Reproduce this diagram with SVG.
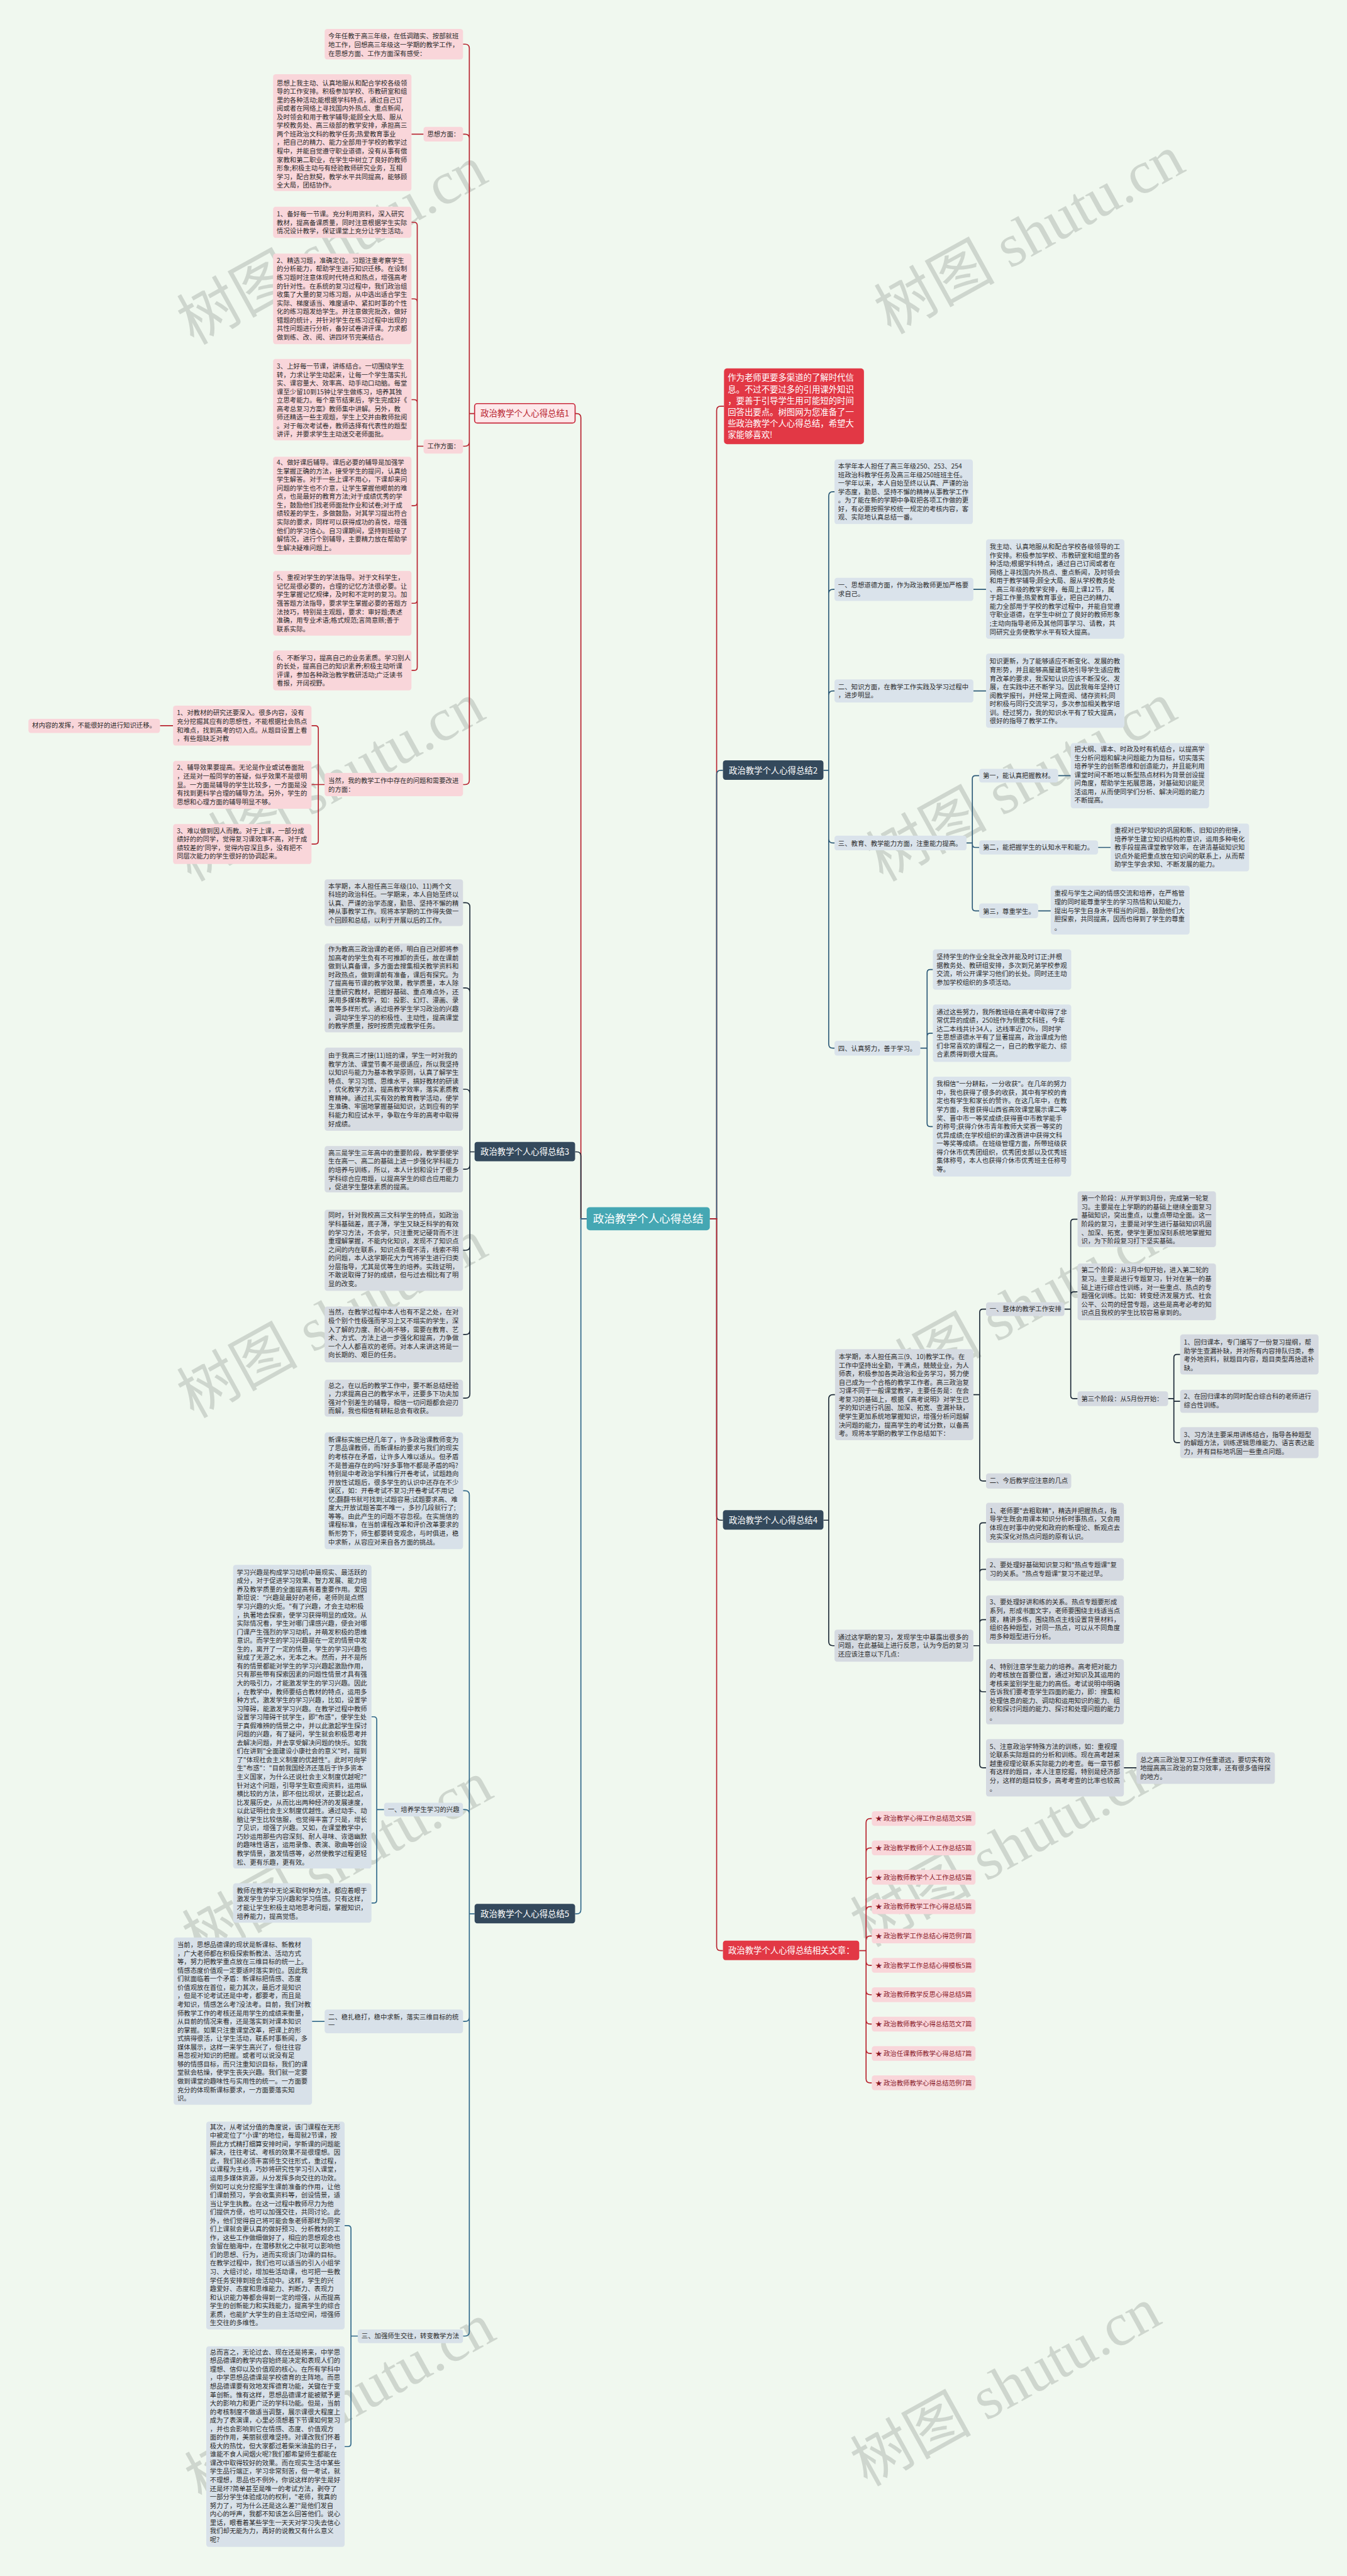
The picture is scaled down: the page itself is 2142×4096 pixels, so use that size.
<svg xmlns="http://www.w3.org/2000/svg" width="2142" height="4096" viewBox="0 0 2142 4096">
<style>
.t{font-family:"Noto Sans CJK SC","Noto Sans",sans-serif;font-size:12.4px;fill:#2b2b2b}
.lk{font-family:"Noto Sans CJK SC","Noto Sans",sans-serif;font-size:12.4px;fill:#8a1a2a}
.big{font-family:"Noto Sans CJK SC","Noto Sans",sans-serif;font-size:16px;fill:#fff}
.ctr{font-family:"Noto Sans CJK SC","Noto Sans",sans-serif;font-size:21px;fill:#fff}
.wm{font-family:"Liberation Serif","Noto Sans CJK SC",serif;font-size:115px;fill:#8c948c;opacity:.33}
.pk{fill:#f9d6da}
.b2{fill:#dae3eb}
.b3{fill:#d7dce2}
.b4{fill:#d5dae1}
.b5{fill:#d8e1e9}
.c1{fill:none;stroke:#b8232f;stroke-width:2}
.c2{fill:none;stroke:#2d5a78;stroke-width:2}
.c3{fill:none;stroke:#1f2c3b;stroke-width:2}
.c4{fill:none;stroke:#1c2937;stroke-width:2}
.c5{fill:none;stroke:#31688a;stroke-width:2}
</style>
<rect x="0" y="0" width="2142" height="4096" fill="#f0f8ef"/>
<g transform="scale(0.8367)">
<g id="watermarks">
<text class="wm" transform="translate(650,500) rotate(-29)" text-anchor="middle">树图 shutu.cn</text>
<text class="wm" transform="translate(1975,480) rotate(-29)" text-anchor="middle">树图 shutu.cn</text>
<text class="wm" transform="translate(645,1520) rotate(-29)" text-anchor="middle">树图 shutu.cn</text>
<text class="wm" transform="translate(1960,1520) rotate(-29)" text-anchor="middle">树图 shutu.cn</text>
<text class="wm" transform="translate(650,2540) rotate(-29)" text-anchor="middle">树图 shutu.cn</text>
<text class="wm" transform="translate(1950,2520) rotate(-29)" text-anchor="middle">树图 shutu.cn</text>
<text class="wm" transform="translate(660,3570) rotate(-29)" text-anchor="middle">树图 shutu.cn</text>
<text class="wm" transform="translate(1930,3545) rotate(-29)" text-anchor="middle">树图 shutu.cn</text>
<text class="wm" transform="translate(665,4600) rotate(-29)" text-anchor="middle">树图 shutu.cn</text>
<text class="wm" transform="translate(1930,4570) rotate(-29)" text-anchor="middle">树图 shutu.cn</text>
</g>
<g id="connectors">
<path class="c1" d="M1115 2316 H1104 V794 Q1104 786 1096 786 H1093"/>
<path class="c3" d="M1115 2316 H1104 V2197 Q1104 2189 1096 2189 H1093"/>
<path class="c5" d="M1115 2316 H1104 V3629 Q1104 3637 1096 3637 H1093"/>
<path class="c1" d="M1349 2316 H1362 V780 Q1362 772 1370 772 H1376"/>
<path class="c2" d="M1349 2316 H1362 V1472 Q1362 1464 1370 1464 H1374"/>
<path class="c4" d="M1349 2316 H1362 V2881 Q1362 2889 1370 2889 H1374"/>
<path class="c1" d="M1349 2316 H1362 V3699 Q1362 3707 1370 3707 H1374"/>
<path class="c1" d="M902 786 H892 M892 786 V92 Q892 84 884 84 H880 M892 786 V263 Q892 255 884 255 H880 M892 786 V840 Q892 848 884 848 H880 M892 786 V1483 Q892 1491 884 1491 H880"/>
<path class="c1" d="M805 255 H782"/>
<path class="c1" d="M805 848 H793 M793 848 V428.5 Q793 422.5 787 422.5 H782 M793 848 V574 Q793 568 787 568 H782 M793 848 V765.5 Q793 759.5 787 759.5 H782 M793 848 V955 Q793 961 787 961 H782 M793 848 V1140.5 Q793 1146.5 787 1146.5 H782 M793 848 V1268 Q793 1274 787 1274 H782"/>
<path class="c1" d="M617 1491 H605 M605 1491 V1385 Q605 1379 599 1379 H592 M605 1491 H592 M605 1491 V1598 Q605 1604 599 1604 H592 M329 1379 H304"/>
<path class="c3" d="M902 2189 H893 M893 2189 V1723.5 Q893 1715.5 885 1715.5 H880 M893 2189 V1885.5 Q893 1877.5 885 1877.5 H880 M893 2189 V2078 Q893 2070 885 2070 H880 M893 2189 V2214 Q893 2222 885 2222 H880 M893 2189 V2368 Q893 2376 885 2376 H880 M893 2189 V2528 Q893 2536 885 2536 H880 M893 2189 V2649 Q893 2657 885 2657 H880"/>
<path class="c5" d="M902 3637 H892 M892 3637 V2841 Q892 2833 884 2833 H880 M892 3637 V3447 Q892 3439 884 3439 H880 M892 3637 V3833.5 Q892 3841.5 884 3841.5 H880 M892 3637 V4431.5 Q892 4439.5 884 4439.5 H880"/>
<path class="c5" d="M730 3439 H716 M716 3439 V3268.5 Q716 3262.5 710 3262.5 H706 M716 3439 V3610.5 Q716 3616.5 710 3616.5 H706"/>
<path class="c5" d="M617 3841.5 H593"/>
<path class="c5" d="M680 4439.5 H667 M667 4439.5 V4235.5 Q667 4229.5 661 4229.5 H655 M667 4439.5 V4643.5 Q667 4649.5 661 4649.5 H655"/>
<path class="c2" d="M1565 1464 H1575 M1575 1464 V942.5 Q1575 934.5 1583 934.5 H1586 M1575 1464 V1128 Q1575 1120 1583 1120 H1586 M1575 1464 V1321 Q1575 1313 1583 1313 H1586 M1575 1464 V1594 Q1575 1602 1583 1602 H1586 M1575 1464 V1984 Q1575 1992 1583 1992 H1586"/>
<path class="c2" d="M1850 1120 H1874 M1850 1313 H1874 M2011 1474 H2035 M2087 1610.5 H2111 M1973 1731 H1997"/>
<path class="c2" d="M1837 1602 H1848 M1848 1602 V1480 Q1848 1474 1854 1474 H1861 M1848 1602 V1604.5 Q1848 1610.5 1854 1610.5 H1861 M1848 1602 V1725 Q1848 1731 1854 1731 H1861"/>
<path class="c2" d="M1749 1992 H1762 M1762 1992 V1848.5 Q1762 1842.5 1768 1842.5 H1773 M1762 1992 V1969.5 Q1762 1963.5 1768 1963.5 H1773 M1762 1992 V2135 Q1762 2141 1768 2141 H1773"/>
<path class="c4" d="M1565 2889 H1575 M1575 2889 V2658.5 Q1575 2650.5 1583 2650.5 H1587 M1575 2889 V3119.5 Q1575 3127.5 1583 3127.5 H1586"/>
<path class="c4" d="M1850 2650.5 H1862 M1862 2650.5 V2494 Q1862 2488 1868 2488 H1874 M1862 2650.5 V2808.5 Q1862 2814.5 1868 2814.5 H1874"/>
<path class="c4" d="M2023 2488 H2035 M2035 2488 V2323 Q2035 2317 2041 2317 H2048 M2035 2488 V2461 Q2035 2455 2041 2455 H2048 M2035 2488 V2652 Q2035 2658 2041 2658 H2048"/>
<path class="c4" d="M2220 2658 H2231 M2231 2658 V2580 Q2231 2574 2237 2574 H2243 M2231 2658 V2663 H2243 M2231 2658 V2735.5 Q2231 2741.5 2237 2741.5 H2243"/>
<path class="c4" d="M1850 3127.5 H1862 M1862 3127.5 V2900 Q1862 2894 1868 2894 H1874 M1862 3127.5 V2988.5 Q1862 2982.5 1868 2982.5 H1874 M1862 3127.5 V3084 Q1862 3078 1868 3078 H1874 M1862 3127.5 V3209 Q1862 3215 1868 3215 H1874 M1862 3127.5 V3353.5 Q1862 3359.5 1868 3359.5 H1874 M2136 3359.5 H2160"/>
<path class="c1" d="M1633 3707 H1646 M1646 3707 V3464 Q1646 3456 1654 3456 H1657 M1646 3707 V3519.8 Q1646 3511.8 1654 3511.8 H1657 M1646 3707 V3575.6 Q1646 3567.6 1654 3567.6 H1657 M1646 3707 V3631.4 Q1646 3623.4 1654 3623.4 H1657 M1646 3707 V3687.2 Q1646 3679.2 1654 3679.2 H1657 M1646 3707 V3727 Q1646 3735 1654 3735 H1657 M1646 3707 V3782.8 Q1646 3790.8 1654 3790.8 H1657 M1646 3707 V3838.6 Q1646 3846.6 1654 3846.6 H1657 M1646 3707 V3894.4 Q1646 3902.4 1654 3902.4 H1657 M1646 3707 V3950.2 Q1646 3958.2 1654 3958.2 H1657"/>
</g>
<g id="center"><rect x="1115" y="2294" width="234" height="44" rx="6" fill="#45a7b3"/><text class="ctr" x="1232" y="2323.5" text-anchor="middle">政治教学个人心得总结</text></g>
<g id="intro"><rect x="1376" y="700" width="266" height="144" rx="6" fill="#e23845"/>
<text class="big" x="1383" y="723.6"><tspan x="1383">作为老师更要多渠道的了解时代信</tspan><tspan x="1383" dy="21.6">息。不过不要过多的引用课外知识</tspan><tspan x="1383" dy="21.6">，要善于引导学生用可能短的时间</tspan><tspan x="1383" dy="21.6">回答出要点。树图网为您准备了一</tspan><tspan x="1383" dy="21.6">些政治教学个人心得总结，希望大</tspan><tspan x="1383" dy="21.6">家能够喜欢!</tspan></text></g>
<g id="b1"><rect x="902" y="767" width="191" height="37" rx="5" fill="#fde8ea" stroke="#c8283a" stroke-width="2"/><text class="big" style="fill:#b8232f" x="997.5" y="791.5" text-anchor="middle">政治教学个人心得总结1</text></g>
<g id="b3"><rect x="902" y="2170" width="191" height="37" rx="5" fill="#34495c"/><text class="big" x="997.5" y="2194.5" text-anchor="middle">政治教学个人心得总结3</text></g>
<g id="b5"><rect x="902" y="3618" width="191" height="37" rx="5" fill="#34495c"/><text class="big" x="997.5" y="3642.5" text-anchor="middle">政治教学个人心得总结5</text></g>
<g id="b2"><rect x="1374" y="1445" width="191" height="37" rx="5" fill="#34495c"/><text class="big" x="1469.5" y="1469.5" text-anchor="middle">政治教学个人心得总结2</text></g>
<g id="b4"><rect x="1374" y="2870" width="191" height="37" rx="5" fill="#34495c"/><text class="big" x="1469.5" y="2894.5" text-anchor="middle">政治教学个人心得总结4</text></g>
<g id="b6"><rect x="1374" y="3688" width="259" height="37" rx="5" fill="#e23845"/><text class="big" x="1384" y="3712.6">政治教学个人心得总结相关文章：</text></g>
<g id="n1a"><rect class="pk" x="617" y="55" width="263" height="58" rx="5"/><text class="t" x="624" y="73.4"><tspan x="624">今年任教于高三年级，在低调踏实、按部就班</tspan><tspan x="624" dy="16.2">地工作，回想高三年级这一学期的教学工作，</tspan><tspan x="624" dy="16.2">在思想方面、工作方面深有感受：</tspan></text></g>
<g id="n1sx"><rect class="pk" x="805" y="241" width="75" height="28" rx="5"/><text class="t" x="812" y="259.4">思想方面：</text></g>
<g id="n1sxbox"><rect class="pk" x="519" y="141" width="263" height="222" rx="5"/><text class="t" x="526" y="162"><tspan x="526">思想上我主动、认真地服从和配合学校各级领</tspan><tspan x="526" dy="16.2">导的工作安排。积极参加学校、市教研室和组</tspan><tspan x="526" dy="16.2">里的各种活动;能根据学科特点，通过自己订</tspan><tspan x="526" dy="16.2">阅或者在网络上寻找国内外热点、重点新闻，</tspan><tspan x="526" dy="16.2">及时领会和用于教学辅导;能顾全大局、服从</tspan><tspan x="526" dy="16.2">学校教务处、高三级部的教学安排，承担高三</tspan><tspan x="526" dy="16.2">两个班政治文科的教学任务;热爱教育事业</tspan><tspan x="526" dy="16.2">，把自己的精力、能力全部用于学校的教学过</tspan><tspan x="526" dy="16.2">程中，并能自觉遵守职业道德，没有从事有偿</tspan><tspan x="526" dy="16.2">家教和第二职业，在学生中树立了良好的教师</tspan><tspan x="526" dy="16.2">形象;积极主动与有经验教师研究业务，互相</tspan><tspan x="526" dy="16.2">学习，配合默契，教学水平共同提高，能够顾</tspan><tspan x="526" dy="16.2">全大局，团结协作。</tspan></text></g>
<g id="n1gz"><rect class="pk" x="805" y="835" width="75" height="27" rx="5"/><text class="t" x="812" y="852.4">工作方面：</text></g>
<g id="w1"><rect class="pk" x="519" y="393" width="263" height="59" rx="5"/><text class="t" x="526" y="411.4"><tspan x="526">1、备好每一节课。充分利用资料，深入研究</tspan><tspan x="526" dy="16.2">教材，提高备课质量，同时注意根据学生实际</tspan><tspan x="526" dy="16.2">情况设计教学，保证课堂上充分让学生活动。</tspan></text></g>
<g id="w2"><rect class="pk" x="519" y="482" width="263" height="172" rx="5"/><text class="t" x="526" y="499.4"><tspan x="526">2、精选习题，准确定位。习题注重考察学生</tspan><tspan x="526" dy="16.2">的分析能力，帮助学生进行知识迁移。在设制</tspan><tspan x="526" dy="16.2">练习题时注意体现时代特点和热点，增强高考</tspan><tspan x="526" dy="16.2">的针对性。在系统的复习过程中，我们政治组</tspan><tspan x="526" dy="16.2">收集了大量的复习练习题，从中选出适合学生</tspan><tspan x="526" dy="16.2">实际、梯度适当、难度适中、紧扣时事的个性</tspan><tspan x="526" dy="16.2">化的练习题发给学生。并注意做完批改，做好</tspan><tspan x="526" dy="16.2">错题的统计，并针对学生在练习过程中出现的</tspan><tspan x="526" dy="16.2">共性问题进行分析，备好试卷讲评课。力求都</tspan><tspan x="526" dy="16.2">做到练、改、阅、讲四环节完美结合。</tspan></text></g>
<g id="w3"><rect class="pk" x="519" y="682" width="263" height="155" rx="5"/><text class="t" x="526" y="700.4"><tspan x="526">3、上好每一节课，讲练结合。一切围绕学生</tspan><tspan x="526" dy="16.2">转，力求让学生动起来，让每一个学生落实扎</tspan><tspan x="526" dy="16.2">实、课容量大、效率高、动手动口动脑。每堂</tspan><tspan x="526" dy="16.2">课至少留10到15钟让学生做练习，培养其独</tspan><tspan x="526" dy="16.2">立思考能力。每个章节结束后，学生完成好《</tspan><tspan x="526" dy="16.2">高考总复习方案》教师集中讲解。另外，教</tspan><tspan x="526" dy="16.2">师还精选一些主观题，学生上交并由教师批阅</tspan><tspan x="526" dy="16.2">。对于每次考试卷，教师选择有代表性的题型</tspan><tspan x="526" dy="16.2">讲评，并要求学生主动送交老师面批。</tspan></text></g>
<g id="w4"><rect class="pk" x="519" y="868" width="263" height="186" rx="5"/><text class="t" x="526" y="883.4"><tspan x="526">4、做好课后辅导。课后必要的辅导是加强学</tspan><tspan x="526" dy="16.2">生掌握正确的方法，接受学生的提问，认真给</tspan><tspan x="526" dy="16.2">学生解答。对于一些上课不用心，下课却来问</tspan><tspan x="526" dy="16.2">问题的学生也不介意，让学生掌握他眼前的难</tspan><tspan x="526" dy="16.2">点，也是最好的教育方法;对于成绩优秀的学</tspan><tspan x="526" dy="16.2">生，鼓励他们找老师面批作业和试卷;对于成</tspan><tspan x="526" dy="16.2">绩较差的学生，多做鼓励，对其学习提出符合</tspan><tspan x="526" dy="16.2">实际的要求，同样可以获得成功的喜悦，增强</tspan><tspan x="526" dy="16.2">他们的学习信心。自习课期间，坚持到班级了</tspan><tspan x="526" dy="16.2">解情况，进行个别辅导，主要精力放在帮助学</tspan><tspan x="526" dy="16.2">生解决疑难问题上。</tspan></text></g>
<g id="w5"><rect class="pk" x="519" y="1085" width="263" height="123" rx="5"/><text class="t" x="526" y="1102.4"><tspan x="526">5、重视对学生的学法指导。对于文科学生，</tspan><tspan x="526" dy="16.2">记忆是很必要的，合理的记忆方法很必要。让</tspan><tspan x="526" dy="16.2">学生掌握记忆规律，及时和不定时的复习。加</tspan><tspan x="526" dy="16.2">强答题方法指导，要求学生掌握必要的答题方</tspan><tspan x="526" dy="16.2">法技巧，特别是主观题，要求：审好题;表述</tspan><tspan x="526" dy="16.2">准确，用专业术语;格式规范;言简意赅;善于</tspan><tspan x="526" dy="16.2">联系实际。</tspan></text></g>
<g id="w6"><rect class="pk" x="519" y="1236" width="263" height="76" rx="5"/><text class="t" x="526" y="1254.4"><tspan x="526">6、不断学习，提高自己的业务素质。学习别人</tspan><tspan x="526" dy="16.2">的长处，提高自己的知识素养;积极主动听课</tspan><tspan x="526" dy="16.2">评课，参加各种政治教学教研活动;广泛读书</tspan><tspan x="526" dy="16.2">看报，开阔视野。</tspan></text></g>
<g id="n1dr"><rect class="pk" x="617" y="1469" width="263" height="44" rx="5"/><text class="t" x="624" y="1488.4"><tspan x="624">当然，我的教学工作中存在的问题和需要改进</tspan><tspan x="624" dy="16.2">的方面：</tspan></text></g>
<g id="c1"><rect class="pk" x="329" y="1341" width="263" height="76" rx="5"/><text class="t" x="336" y="1359.4"><tspan x="336">1、对教材的研究还要深入。很多内容，没有</tspan><tspan x="336" dy="16.2">充分挖掘其应有的思想性，不能根据社会热点</tspan><tspan x="336" dy="16.2">和难点，找到高考的切入点。从题目设置上看</tspan><tspan x="336" dy="16.2">，有些题缺乏对教</tspan></text></g>
<g id="c2"><rect class="pk" x="329" y="1446" width="263" height="91" rx="5"/><text class="t" x="336" y="1463.4"><tspan x="336">2、辅导效果要提高。无论是作业或试卷面批</tspan><tspan x="336" dy="16.2">，还是对一般同学的答疑，似乎效果不是很明</tspan><tspan x="336" dy="16.2">显。一方面是辅导的学生比较多，一方面是没</tspan><tspan x="336" dy="16.2">有找到更科学合理的辅导方法。另外，学生的</tspan><tspan x="336" dy="16.2">思想和心理方面的辅导明显不够。</tspan></text></g>
<g id="c3"><rect class="pk" x="329" y="1566" width="263" height="76" rx="5"/><text class="t" x="336" y="1583.4"><tspan x="336">3、难以做到因人而教。对于上课，一部分成</tspan><tspan x="336" dy="16.2">绩好的的同学，觉得复习课效率不高，对于成</tspan><tspan x="336" dy="16.2">绩较差的'同学，觉得内容深且多，没有把不</tspan><tspan x="336" dy="16.2">同层次能力的学生很好的协调起来。</tspan></text></g>
<g id="fl"><rect class="pk" x="54" y="1366" width="250" height="27" rx="5"/><text class="t" x="61" y="1383.4">材内容的发挥，不能很好的进行知识迁移。</text></g>
<g id="b3n1"><rect class="b3" x="617" y="1671" width="263" height="89" rx="5"/><text class="t" x="624" y="1688.4"><tspan x="624">本学期，本人担任高三年级(10、11)两个文</tspan><tspan x="624" dy="16.2">科班的政治科任。一学期来，本人自始至终以</tspan><tspan x="624" dy="16.2">认真、严谨的治学态度，勤恳、坚持不懈的精</tspan><tspan x="624" dy="16.2">神从事教学工作。现将本学期的工作得失做一</tspan><tspan x="624" dy="16.2">个回顾和总结，以利于开展以后的工作。</tspan></text></g>
<g id="b3n2"><rect class="b3" x="617" y="1793" width="263" height="169" rx="5"/><text class="t" x="624" y="1808.4"><tspan x="624">作为教高三政治课的老师，明白自己对即将参</tspan><tspan x="624" dy="16.2">加高考的学生负有不可推卸的责任，故在课前</tspan><tspan x="624" dy="16.2">做到认真备课，多方面去搜集相关教学资料和</tspan><tspan x="624" dy="16.2">时政热点，做到课前有准备，课后有探究。为</tspan><tspan x="624" dy="16.2">了提高每节课的教学效果，教学质量，本人除</tspan><tspan x="624" dy="16.2">注重研究教材，把握好基础、重点难点外，还</tspan><tspan x="624" dy="16.2">采用多媒体教学，如：投影、幻灯、漫画、录</tspan><tspan x="624" dy="16.2">音等多样形式。通过培养学生学习政治的兴趣</tspan><tspan x="624" dy="16.2">，调动学生学习的积极性、主动性，提高课堂</tspan><tspan x="624" dy="16.2">的教学质量，按时按质完成教学任务。</tspan></text></g>
<g id="b3n3"><rect class="b3" x="617" y="1991" width="263" height="158" rx="5"/><text class="t" x="624" y="2010.4"><tspan x="624">由于我高三才接(11)班的课，学生一时对我的</tspan><tspan x="624" dy="16.2">教学方法、课堂节奏不是很适应，所以我坚持</tspan><tspan x="624" dy="16.2">以知识与能力为基本教学原则，认真了解学生</tspan><tspan x="624" dy="16.2">特点、学习习惯、思维水平，搞好教材的研读</tspan><tspan x="624" dy="16.2">，优化教学方法，提高教学效率，落实素质教</tspan><tspan x="624" dy="16.2">育精神。通过扎实有效的教育教学活动，使学</tspan><tspan x="624" dy="16.2">生准确、牢固地掌握基础知识，达到应有的学</tspan><tspan x="624" dy="16.2">科能力和应试水平，争取在今年的高考中取得</tspan><tspan x="624" dy="16.2">好成绩。</tspan></text></g>
<g id="b3n4"><rect class="b3" x="617" y="2178" width="263" height="88" rx="5"/><text class="t" x="624" y="2195.4"><tspan x="624">高三是学生三年高中的重要阶段，教学要使学</tspan><tspan x="624" dy="16.2">生在高一、高二的基础上进一步强化学科能力</tspan><tspan x="624" dy="16.2">的培养与训练，所以，本人计划和设计了很多</tspan><tspan x="624" dy="16.2">学科综合应用题，以提高学生的综合应用能力</tspan><tspan x="624" dy="16.2">，促进学生整体素质的提高。</tspan></text></g>
<g id="b3n5"><rect class="b3" x="617" y="2299" width="263" height="154" rx="5"/><text class="t" x="624" y="2314.4"><tspan x="624">同时，针对我校高三文科学生的特点，如政治</tspan><tspan x="624" dy="16.2">学科基础差，底子薄，学生又缺乏科学的有效</tspan><tspan x="624" dy="16.2">的学习方法，不会学，只注重死记硬背而不注</tspan><tspan x="624" dy="16.2">重理解掌握，不能内化知识，发现不了知识点</tspan><tspan x="624" dy="16.2">之间的内在联系，知识点条理不清，线索不明</tspan><tspan x="624" dy="16.2">的问题，本人这学期花大力气将学生进行归类</tspan><tspan x="624" dy="16.2">分层指导，尤其是优等生的培养。实践证明，</tspan><tspan x="624" dy="16.2">不敢说取得了好的成绩，但与过去相比有了明</tspan><tspan x="624" dy="16.2">显的改变。</tspan></text></g>
<g id="b3n6"><rect class="b3" x="617" y="2483" width="263" height="106" rx="5"/><text class="t" x="624" y="2498.4"><tspan x="624">当然，在教学过程中本人也有不足之处，在对</tspan><tspan x="624" dy="16.2">极个别个性极强而学习上又不塌实的学生，深</tspan><tspan x="624" dy="16.2">入了解的力度、耐心尚不够，需要在教育、艺</tspan><tspan x="624" dy="16.2">术、方式、方法上进一步强化和提高，力争做</tspan><tspan x="624" dy="16.2">一个人人都喜欢的老师。对本人来讲这将是一</tspan><tspan x="624" dy="16.2">向长期的、艰巨的任务。</tspan></text></g>
<g id="b3n7"><rect class="b3" x="617" y="2622" width="263" height="70" rx="5"/><text class="t" x="624" y="2637.4"><tspan x="624">总之，在以后的教学工作中，要不断总结经验</tspan><tspan x="624" dy="16.2">，力求提高自己的教学水平，还要多下功夫加</tspan><tspan x="624" dy="16.2">强对个别差生的辅导，相信一切问题都会迎刃</tspan><tspan x="624" dy="16.2">而解，我也相信有耕耘总会有收获。</tspan></text></g>
<g id="b5n1"><rect class="b5" x="617" y="2722" width="263" height="222" rx="5"/><text class="t" x="624" y="2740.4"><tspan x="624">新课标实施已经几年了，许多政治课教师变为</tspan><tspan x="624" dy="16.2">了思品课教师，而新课标的要求与我们的现实</tspan><tspan x="624" dy="16.2">的考核存在矛盾，让许多人难以适从。但矛盾</tspan><tspan x="624" dy="16.2">不是普遍存在的吗?好多事物不都是矛盾的吗?</tspan><tspan x="624" dy="16.2">特别是中考政治学科推行开卷考试，试题趋向</tspan><tspan x="624" dy="16.2">开放性试题后，很多学生的认识中还存在不少</tspan><tspan x="624" dy="16.2">误区，如：开卷考试不复习;开卷考试不用记</tspan><tspan x="624" dy="16.2">忆;翻翻书就可找到;试题容易;试题要求高、难</tspan><tspan x="624" dy="16.2">度大;开放试题答案不唯一，多抄几段就行了;</tspan><tspan x="624" dy="16.2">等等。由此产生的问题不容忽视。在实施信的</tspan><tspan x="624" dy="16.2">课程标准，在当前课程改革和评价改革要求的</tspan><tspan x="624" dy="16.2">新形势下，师生都要转变观念，与时俱进，稳</tspan><tspan x="624" dy="16.2">中求新，从容应对来自各方面的挑战。</tspan></text></g>
<g id="b5l1"><rect class="b5" x="730" y="3426" width="150" height="26" rx="5"/><text class="t" x="737" y="3443.4">一、培养学生学习的兴趣</text></g>
<g id="b5n1a"><rect class="b5" x="443" y="2974" width="263" height="577" rx="5"/><text class="t" x="450" y="2992.4"><tspan x="450">学习兴趣是构成学习动机中最现实、最活跃的</tspan><tspan x="450" dy="16.2">成分，对于促进学习效果、智力发展、能力培</tspan><tspan x="450" dy="16.2">养及教学质量的全面提高有着重要作用。爱因</tspan><tspan x="450" dy="16.2">斯坦说："兴趣是最好的老师，老师则是点燃</tspan><tspan x="450" dy="16.2">学习兴趣的火炬。"有了兴趣，才会主动积极</tspan><tspan x="450" dy="16.2">，执著地去探索，使学习获得明显的成效。从</tspan><tspan x="450" dy="16.2">实际情况看，学生对哪门课感兴趣，便会对哪</tspan><tspan x="450" dy="16.2">门课产生强烈的学习动机，并萌发积极的思维</tspan><tspan x="450" dy="16.2">意识。而学生的学习兴趣是在一定的情景中发</tspan><tspan x="450" dy="16.2">生的，离开了一定的情景，学生的学习兴趣也</tspan><tspan x="450" dy="16.2">就成了无源之水，无本之木。然而，并不是所</tspan><tspan x="450" dy="16.2">有的情景都能对学生的学习兴趣起激励作用，</tspan><tspan x="450" dy="16.2">只有那些带有探索因素的问题性情景才具有强</tspan><tspan x="450" dy="16.2">大的吸引力，才能激发学生的学习兴趣。因此</tspan><tspan x="450" dy="16.2">，在教学中，教师要结合教材的特点，运用多</tspan><tspan x="450" dy="16.2">种方式，激发学生的学习兴趣，比如，设置学</tspan><tspan x="450" dy="16.2">习障碍，能激发学习兴趣。在教学过程中教师</tspan><tspan x="450" dy="16.2">设置学习障碍干扰学生，即"布惑"，使学生处</tspan><tspan x="450" dy="16.2">于真假难辨的情景之中，并以此激起学生探讨</tspan><tspan x="450" dy="16.2">问题的兴趣，有了疑问，学生就会积极思考并</tspan><tspan x="450" dy="16.2">去解决问题，并去享受解决问题的快乐。如我</tspan><tspan x="450" dy="16.2">们在讲到"全面建设小康社会的意义"时，提到</tspan><tspan x="450" dy="16.2">了"体现社会主义制度的优越性"。此时可向学</tspan><tspan x="450" dy="16.2">生"布惑"："目前我国经济还落后于许多资本</tspan><tspan x="450" dy="16.2">主义国家，为什么还说社会主义制度优越呢?"</tspan><tspan x="450" dy="16.2">针对这个问题，引导学生取查阅资料，运用纵</tspan><tspan x="450" dy="16.2">横比较的方法，即不但比现状，还要比起点，</tspan><tspan x="450" dy="16.2">比发展历史，从而比出两种经济的发展速度，</tspan><tspan x="450" dy="16.2">以此证明社会主义制度优越性。通过动手、动</tspan><tspan x="450" dy="16.2">脑让学生比较信服，也觉得丰富了只是，增长</tspan><tspan x="450" dy="16.2">了见识，增强了兴趣。又如，在课堂教学中，</tspan><tspan x="450" dy="16.2">巧妙运用那些内容深刻、耐人寻味、诙谐幽默</tspan><tspan x="450" dy="16.2">的趣味性语言，运用录像、表演、歌曲等创设</tspan><tspan x="450" dy="16.2">教学情景，激发情感等，必然使教学过程更轻</tspan><tspan x="450" dy="16.2">松、更有乐趣，更有效。</tspan></text></g>
<g id="b5n1b"><rect class="b5" x="443" y="3579" width="263" height="75" rx="5"/><text class="t" x="450" y="3597.4"><tspan x="450">教师在教学中无论采取何种方法，都应着眼于</tspan><tspan x="450" dy="16.2">激发学生的学习兴趣和学习情感。只有这样，</tspan><tspan x="450" dy="16.2">才能让学生积极主动地思考问题，掌握知识，</tspan><tspan x="450" dy="16.2">培养能力，提高觉悟。</tspan></text></g>
<g id="b5n2"><rect class="b5" x="330" y="3682" width="263" height="318" rx="5"/><text class="t" x="337" y="3700.4"><tspan x="337">当前，思想品德课的现状是新课标、新教材</tspan><tspan x="337" dy="16.2">，广大老师都在积极探索新教法、活动方式</tspan><tspan x="337" dy="16.2">等，努力把教学重点放在三维目标的统一上。</tspan><tspan x="337" dy="16.2">情感态度价值观一定要适时落实到位。因此我</tspan><tspan x="337" dy="16.2">们就面临着一个矛盾：新课标把情感、态度</tspan><tspan x="337" dy="16.2">价值观放在首位，能力其次，最后才是知识</tspan><tspan x="337" dy="16.2">，但是不论考试还是中考，都要考，而且是</tspan><tspan x="337" dy="16.2">考知识，情感怎么考?没法考。目前，我们对教</tspan><tspan x="337" dy="16.2">师教学工作的考核还是用学生的成绩来衡量，</tspan><tspan x="337" dy="16.2">从目前的情况来看，还是落实到对课本知识</tspan><tspan x="337" dy="16.2">的掌握。如果只注重课堂改革，把课上的形</tspan><tspan x="337" dy="16.2">式搞得很活，让学生活动，联系时事新闻，多</tspan><tspan x="337" dy="16.2">媒体展示，这样一来学生高兴了，但往往容</tspan><tspan x="337" dy="16.2">易忽视对知识的把握。或者可以说没有足</tspan><tspan x="337" dy="16.2">够的情感目标，而只注重知识目标，我们的课</tspan><tspan x="337" dy="16.2">堂就会枯燥，使学生丧失兴趣。我们就一定要</tspan><tspan x="337" dy="16.2">做到课堂的趣味性与实用性的统一。一方面要</tspan><tspan x="337" dy="16.2">充分的体现新课标要求，一方面要落实知</tspan><tspan x="337" dy="16.2">识。</tspan></text></g>
<g id="b5l2"><rect class="b5" x="617" y="3819" width="263" height="45" rx="5"/><text class="t" x="624" y="3837.4"><tspan x="624">二、稳扎稳打，稳中求新，落实三维目标的统</tspan><tspan x="624" dy="16.2">一</tspan></text></g>
<g id="b5l3"><rect class="b5" x="680" y="4427" width="200" height="26" rx="5"/><text class="t" x="687" y="4443.4">三、加强师生交往，转变教学方法</text></g>
<g id="b5n3a"><rect class="b5" x="392" y="4032" width="263" height="395" rx="5"/><text class="t" x="399" y="4046.4"><tspan x="399">其次，从考试分值的角度说，该门课程在无形</tspan><tspan x="399" dy="16.2">中被定位了"小课"的地位，每周就2节课，按</tspan><tspan x="399" dy="16.2">照此方式精打细算安排时间，学新课的问题能</tspan><tspan x="399" dy="16.2">解决，往往考试、考核的效果不是很理想。因</tspan><tspan x="399" dy="16.2">此，我们就必须丰富师生交往形式，重过程，</tspan><tspan x="399" dy="16.2">以课程为主线，巧妙将研究性学习引入课堂，</tspan><tspan x="399" dy="16.2">运用多媒体资源，从分发挥多向交往的功效。</tspan><tspan x="399" dy="16.2">例如可以充分挖掘学生课前准备的作用，让他</tspan><tspan x="399" dy="16.2">们课前预习，学会收集资料等，创设情景，适</tspan><tspan x="399" dy="16.2">当让学生执教。在这一过程中教师尽力为他</tspan><tspan x="399" dy="16.2">们提供方便，也可以加强交往，共同讨论。此</tspan><tspan x="399" dy="16.2">外，他们觉得自己将可能会象老师那样为同学</tspan><tspan x="399" dy="16.2">们上课就会更认真的做好预习、分析教材的工</tspan><tspan x="399" dy="16.2">作，这些工作做细做好了，相应的思想观念也</tspan><tspan x="399" dy="16.2">会留在脑海中，在潜移默化之中就可以影响他</tspan><tspan x="399" dy="16.2">们的思想、行为，进而实现该门功课的目标。</tspan><tspan x="399" dy="16.2">在教学过程中，我们也可以适当的引入小组学</tspan><tspan x="399" dy="16.2">习、大组讨论，增加些活动课，也可把一些教</tspan><tspan x="399" dy="16.2">学任务安排到班会活动中。这样，学生的兴</tspan><tspan x="399" dy="16.2">趣爱好、态度和思维能力、判断力、表现力</tspan><tspan x="399" dy="16.2">和认识能力等都会得到一定的增强，从而提高</tspan><tspan x="399" dy="16.2">学生的创新能力和实践能力，提高学生的综合</tspan><tspan x="399" dy="16.2">素质，也能扩大学生的自主活动空间，增强师</tspan><tspan x="399" dy="16.2">生交往的多维性。</tspan></text></g>
<g id="b5n3b"><rect class="b5" x="392" y="4459" width="263" height="381" rx="5"/><text class="t" x="399" y="4474.4"><tspan x="399">总而言之，无论过去、现在还是将来，中学思</tspan><tspan x="399" dy="16.2">想品德课的教学内容始终是决定和表现人们的</tspan><tspan x="399" dy="16.2">理想、信仰以及价值观的核心。在所有学科中</tspan><tspan x="399" dy="16.2">，中学思想品德课是学校德育的主阵地。而思</tspan><tspan x="399" dy="16.2">想品德课要有效地发挥德育功能，关键在于变</tspan><tspan x="399" dy="16.2">革创新。惟有这样，思想品德课才能被赋予更</tspan><tspan x="399" dy="16.2">大的影响力和更广泛的学科功能。但是，当前</tspan><tspan x="399" dy="16.2">的考核制度不做适当调整，展示课很大程度上</tspan><tspan x="399" dy="16.2">成为了表演课，心里必须想着下节课如何复习</tspan><tspan x="399" dy="16.2">，并也会影响到它在情感、态度、价值观方</tspan><tspan x="399" dy="16.2">面的作用，美丽就很难坚持。对课改我们怀着</tspan><tspan x="399" dy="16.2">极大的热忱，但大家都过着柴米油盐的日子，</tspan><tspan x="399" dy="16.2">谁能不食人间烟火呢?我们都希望师生都能在</tspan><tspan x="399" dy="16.2">课改中取得较好的效果。而在现实生活中某些</tspan><tspan x="399" dy="16.2">学生品行端正，学习非常刻苦，但一考试，就</tspan><tspan x="399" dy="16.2">不理想，思品也不例外，你说这样的学生是好</tspan><tspan x="399" dy="16.2">还是坏?简单甚至是唯一的考试方法，剥夺了</tspan><tspan x="399" dy="16.2">一部分学生体验成功的权利，"老师，我真的</tspan><tspan x="399" dy="16.2">努力了，可为什么还是这么差?"是他们发自</tspan><tspan x="399" dy="16.2">内心的呼声，我都不知该怎么回答他们。说心</tspan><tspan x="399" dy="16.2">里话，眼看着某些学生一天天对学习失去信心</tspan><tspan x="399" dy="16.2">我们却无能为力，再好的说教又有什么意义</tspan><tspan x="399" dy="16.2">呢?</tspan></text></g>
<g id="b2top"><rect class="b2" x="1586" y="873" width="263" height="123" rx="5"/><text class="t" x="1593" y="890.4"><tspan x="1593">本学年本人担任了高三年级250、253、254</tspan><tspan x="1593" dy="16.2">班政治科教学任务及高三年级250班班主任。</tspan><tspan x="1593" dy="16.2">一学年以来，本人自始至终以认真、严谨的治</tspan><tspan x="1593" dy="16.2">学态度，勤恳、坚持不懈的精神从事教学工作</tspan><tspan x="1593" dy="16.2">。为了能在新的学期中争取把各项工作做的更</tspan><tspan x="1593" dy="16.2">好，有必要按照学校统一规定的考核内容，客</tspan><tspan x="1593" dy="16.2">观、实际地认真总结一番。</tspan></text></g>
<g id="b2l1"><rect class="b2" x="1586" y="1098" width="264" height="44" rx="5"/><text class="t" x="1593" y="1116.4"><tspan x="1593">一、思想道德方面，作为政治教师更加严格要</tspan><tspan x="1593" dy="16.2">求自己。</tspan></text></g>
<g id="b2n1"><rect class="b2" x="1874" y="1025" width="263" height="189" rx="5"/><text class="t" x="1881" y="1043.4"><tspan x="1881">我主动、认真地服从和配合学校各级领导的工</tspan><tspan x="1881" dy="16.2">作安排。积极参加学校、市教研室和组里的各</tspan><tspan x="1881" dy="16.2">种活动;根据学科特点，通过自己订阅或者在</tspan><tspan x="1881" dy="16.2">网络上寻找国内外热点、重点新闻，及时领会</tspan><tspan x="1881" dy="16.2">和用于教学辅导;顾全大局、服从学校教务处</tspan><tspan x="1881" dy="16.2">、高三年级的教学安排，每周上课12节，属</tspan><tspan x="1881" dy="16.2">于超工作量;热爱教育事业，把自己的精力、</tspan><tspan x="1881" dy="16.2">能力全部用于学校的教学过程中，并能自觉遵</tspan><tspan x="1881" dy="16.2">守职业道德，在学生中树立了良好的教师形象</tspan><tspan x="1881" dy="16.2">;主动向指导老师及其他同事学习、请教，共</tspan><tspan x="1881" dy="16.2">同研究业务使教学水平有较大提高。</tspan></text></g>
<g id="b2l2"><rect class="b2" x="1586" y="1291" width="264" height="44" rx="5"/><text class="t" x="1593" y="1309.4"><tspan x="1593">二、知识方面，在教学工作实践及学习过程中</tspan><tspan x="1593" dy="16.2">，进步明显。</tspan></text></g>
<g id="b2n2"><rect class="b2" x="1874" y="1242" width="263" height="141" rx="5"/><text class="t" x="1881" y="1261.4"><tspan x="1881">知识更新，为了能够适应不断变化、发展的教</tspan><tspan x="1881" dy="16.2">育形势，并且能够高屋建瓴地引导学生适应教</tspan><tspan x="1881" dy="16.2">育改革的要求，我深知认识应该不断深化、发</tspan><tspan x="1881" dy="16.2">展，在实践中还不断学习。因此我每年坚持订</tspan><tspan x="1881" dy="16.2">阅教学报刊，并经常上网查阅、储存资料;同</tspan><tspan x="1881" dy="16.2">时积极与同行交流学习，多次参加相关教学培</tspan><tspan x="1881" dy="16.2">训。经过努力，我的知识水平有了较大提高，</tspan><tspan x="1881" dy="16.2">很好的指导了教学工作。</tspan></text></g>
<g id="b2l3"><rect class="b2" x="1586" y="1588" width="251" height="28" rx="5"/><text class="t" x="1593" y="1607.4">三、教育、教学能力方面，注重能力提高。</text></g>
<g id="b2l31"><rect class="b2" x="1861" y="1461" width="150" height="26" rx="5"/><text class="t" x="1868" y="1478.4">第一，能认真把握教材。</text></g>
<g id="b2n31"><rect class="b2" x="2035" y="1412" width="263" height="124" rx="5"/><text class="t" x="2042" y="1428.4"><tspan x="2042">把大纲、课本、时政及时有机结合，以提高学</tspan><tspan x="2042" dy="16.2">生分析问题和解决问题能力为目标，切实落实</tspan><tspan x="2042" dy="16.2">培养学生的创新思维和创造能力，并且能利用</tspan><tspan x="2042" dy="16.2">课堂时间不断地以新型热点材料为背景创设提</tspan><tspan x="2042" dy="16.2">问角度，帮助学生拓展思路，对基础知识能灵</tspan><tspan x="2042" dy="16.2">活运用，从而使同学们分析、解决问题的能力</tspan><tspan x="2042" dy="16.2">不断提高。</tspan></text></g>
<g id="b2l32"><rect class="b2" x="1861" y="1597" width="226" height="27" rx="5"/><text class="t" x="1868" y="1614.4">第二，能把握学生的认知水平和能力。</text></g>
<g id="b2n32"><rect class="b2" x="2111" y="1565" width="263" height="91" rx="5"/><text class="t" x="2118" y="1582.4"><tspan x="2118">重视对已学知识的巩固和新、旧知识的衔接，</tspan><tspan x="2118" dy="16.2">培养学生建立知识结构的意识，运用多种电化</tspan><tspan x="2118" dy="16.2">教手段提高课堂教学效率，在讲清基础知识知</tspan><tspan x="2118" dy="16.2">识点外能把重点放在知识间的联系上，从而帮</tspan><tspan x="2118" dy="16.2">助学生学会求知、不断发展的能力。</tspan></text></g>
<g id="b2l33"><rect class="b2" x="1861" y="1717" width="112" height="28" rx="5"/><text class="t" x="1868" y="1736.4">第三，尊重学生。</text></g>
<g id="b2n33"><rect class="b2" x="1997" y="1683" width="264" height="93" rx="5"/><text class="t" x="2004" y="1702.4"><tspan x="2004">重视与学生之间的情感交流和培养，在严格管</tspan><tspan x="2004" dy="16.2">理的同时能尊重学生的学习热情和认知能力，</tspan><tspan x="2004" dy="16.2">提出与学生自身水平相当的问题，鼓励他们大</tspan><tspan x="2004" dy="16.2">胆探索，共同提高，因而也得到了学生的尊重</tspan><tspan x="2004" dy="16.2">。</tspan></text></g>
<g id="b2l4"><rect class="b2" x="1586" y="1978" width="163" height="28" rx="5"/><text class="t" x="1593" y="1997.4">四、认真努力，善于学习。</text></g>
<g id="b2n41"><rect class="b2" x="1773" y="1804" width="263" height="77" rx="5"/><text class="t" x="1780" y="1822.9"><tspan x="1780">坚持学生的作业全批全改并能及时订正;并根</tspan><tspan x="1780" dy="16.2">据教务处、教研组安排，多次到兄弟学校参观</tspan><tspan x="1780" dy="16.2">交流，听公开课学习他们的长处。同时还主动</tspan><tspan x="1780" dy="16.2">参加学校组织的多项活动。</tspan></text></g>
<g id="b2n42"><rect class="b2" x="1773" y="1909" width="263" height="109" rx="5"/><text class="t" x="1780" y="1927.4"><tspan x="1780">通过这些努力，我所教班级在高考中取得了非</tspan><tspan x="1780" dy="16.2">常优异的成绩，250班作为侧重文科班，今年</tspan><tspan x="1780" dy="16.2">达二本线共计34人，达线率近70%，同时学</tspan><tspan x="1780" dy="16.2">生思想道德水平有了显著提高，政治课成为他</tspan><tspan x="1780" dy="16.2">们非常喜欢的课程之一，自己的教学能力、综</tspan><tspan x="1780" dy="16.2">合素质得到很大提高。</tspan></text></g>
<g id="b2n43"><rect class="b2" x="1773" y="2046" width="263" height="190" rx="5"/><text class="t" x="1780" y="2064.4"><tspan x="1780">我相信"一分耕耘，一分收获"。在几年的努力</tspan><tspan x="1780" dy="16.2">中，我也获得了很多的收获，其中有学校的肯</tspan><tspan x="1780" dy="16.2">定也有学生和家长的赞许。在这几年中，在教</tspan><tspan x="1780" dy="16.2">学方面，我曾获得山西省高效课堂展示课二等</tspan><tspan x="1780" dy="16.2">奖、晋中市一等奖成绩;获得晋中市教学能手</tspan><tspan x="1780" dy="16.2">的称号;获得介休市青年教师大奖赛一等奖的</tspan><tspan x="1780" dy="16.2">优异成绩;在学校组织的课改赛讲中获得文科</tspan><tspan x="1780" dy="16.2">一等奖等成绩。在班级管理方面，所带班级获</tspan><tspan x="1780" dy="16.2">得介休市优秀团组织，优秀团支部以及优秀班</tspan><tspan x="1780" dy="16.2">集体称号，本人也获得介休市优秀班主任称号</tspan><tspan x="1780" dy="16.2">等。</tspan></text></g>
<g id="b4n1"><rect class="b4" x="1587" y="2564" width="263" height="173" rx="5"/><text class="t" x="1594" y="2582.9"><tspan x="1594">本学期，本人担任高三(9、10)教学工作。在</tspan><tspan x="1594" dy="16.2">工作中坚持出全勤，干满点，兢兢业业，为人</tspan><tspan x="1594" dy="16.2">师表，积极参加各类政治和业务学习，努力使</tspan><tspan x="1594" dy="16.2">自己成为一个合格的教学工作者。高三政治复</tspan><tspan x="1594" dy="16.2">习课不同于一般课堂教学，主要任务是：在会</tspan><tspan x="1594" dy="16.2">考复习的基础上，根据《高考说明》对学生已</tspan><tspan x="1594" dy="16.2">学的知识进行巩固、加深、拓宽、查漏补缺，</tspan><tspan x="1594" dy="16.2">使学生更加系统地掌握知识，增强分析问题解</tspan><tspan x="1594" dy="16.2">决问题的能力，提高学生的考试分数，以备高</tspan><tspan x="1594" dy="16.2">考。现将本学期的教学工作总结如下：</tspan></text></g>
<g id="b4l1"><rect class="b4" x="1874" y="2475" width="149" height="26" rx="5"/><text class="t" x="1881" y="2492.4">一、整体的教学工作安排</text></g>
<g id="b4s1"><rect class="b4" x="2048" y="2264" width="263" height="106" rx="5"/><text class="t" x="2055" y="2282"><tspan x="2055">第一个阶段：从开学到3月份，完成第一轮复</tspan><tspan x="2055" dy="16.2">习。主要是在上学期的的基础上继续全面复习</tspan><tspan x="2055" dy="16.2">基础知识，突出重点，以重点带动全面。这一</tspan><tspan x="2055" dy="16.2">阶段的复习，主要是对学生进行基础知识巩固</tspan><tspan x="2055" dy="16.2">、加深、拓宽，使学生更加深刻系统地掌握知</tspan><tspan x="2055" dy="16.2">识，为下阶段复习打下坚实基础。</tspan></text></g>
<g id="b4s2"><rect class="b4" x="2048" y="2401" width="263" height="108" rx="5"/><text class="t" x="2055" y="2418.4"><tspan x="2055">第二个阶段：从3月中旬开始，进入第二轮的</tspan><tspan x="2055" dy="16.2">复习。主要是进行专题复习，针对在第一的基</tspan><tspan x="2055" dy="16.2">础上进行综合性训练，对一些重点、热点的专</tspan><tspan x="2055" dy="16.2">题强化训练。比如：转变经济发展方式、社会</tspan><tspan x="2055" dy="16.2">公平、公司的经营专题，这些是高考必考的知</tspan><tspan x="2055" dy="16.2">识点且我校的学生比较容易拿到的。</tspan></text></g>
<g id="b4s3"><rect class="b4" x="2048" y="2644" width="172" height="28" rx="5"/><text class="t" x="2055" y="2663.4">第三个阶段：从5月份开始：</text></g>
<g id="b4s31"><rect class="b4" x="2243" y="2536" width="263" height="76" rx="5"/><text class="t" x="2250" y="2555.4"><tspan x="2250">1、回归课本，专门编写了一份复习提纲，帮</tspan><tspan x="2250" dy="16.2">助学生查漏补缺，并对所有内容排队归类，参</tspan><tspan x="2250" dy="16.2">考外地资料，就题目内容，题目类型再拾遗补</tspan><tspan x="2250" dy="16.2">缺。</tspan></text></g>
<g id="b4s32"><rect class="b4" x="2243" y="2641" width="263" height="44" rx="5"/><text class="t" x="2250" y="2658.4"><tspan x="2250">2、在回归课本的同时配合综合科的老师进行</tspan><tspan x="2250" dy="16.2">综合性训练。</tspan></text></g>
<g id="b4s33"><rect class="b4" x="2243" y="2712" width="263" height="59" rx="5"/><text class="t" x="2250" y="2730.4"><tspan x="2250">3、习方法主要采用讲练结合，指导各种题型</tspan><tspan x="2250" dy="16.2">的解题方法，训练逻辑思维能力、语言表达能</tspan><tspan x="2250" dy="16.2">力，并有目标地巩固一些重点问题。</tspan></text></g>
<g id="b4l2"><rect class="b4" x="1874" y="2800" width="162" height="29" rx="5"/><text class="t" x="1881" y="2818.4">二、今后教学应注意的几点</text></g>
<g id="b4n2"><rect class="b4" x="1586" y="3097" width="264" height="61" rx="5"/><text class="t" x="1593" y="3115.4"><tspan x="1593">通过这学期的复习，发现学生中暴露出很多的</tspan><tspan x="1593" dy="16.2">问题，在此基础上进行反思，认为今后的复习</tspan><tspan x="1593" dy="16.2">还应该注意以下几点：</tspan></text></g>
<g id="b4i1"><rect class="b4" x="1874" y="2856" width="262" height="76" rx="5"/><text class="t" x="1881" y="2875.4"><tspan x="1881">1、老师要"去粗取精"，精选并把握热点，指</tspan><tspan x="1881" dy="16.2">导学生既会用课本知识分析时事热点，又会用</tspan><tspan x="1881" dy="16.2">体现在时事中的党和政府的新理论、新观点去</tspan><tspan x="1881" dy="16.2">充实深化对热点问题的原有认识。</tspan></text></g>
<g id="b4i2"><rect class="b4" x="1874" y="2961" width="262" height="43" rx="5"/><text class="t" x="1881" y="2978.4"><tspan x="1881">2、要处理好基础知识复习和"热点专题课"复</tspan><tspan x="1881" dy="16.2">习的关系。"热点专题课"复习不能过早。</tspan></text></g>
<g id="b4i3"><rect class="b4" x="1874" y="3032" width="262" height="92" rx="5"/><text class="t" x="1881" y="3049.4"><tspan x="1881">3、要处理好讲和练的关系。热点专题要形成</tspan><tspan x="1881" dy="16.2">系列，形成书面文字，老师要围绕主线适当点</tspan><tspan x="1881" dy="16.2">拨，精讲多练，围绕热点主线设置背景材料，</tspan><tspan x="1881" dy="16.2">组织各种题型，对同一热点，可以从不同角度</tspan><tspan x="1881" dy="16.2">用多种题型进行分析。</tspan></text></g>
<g id="b4i4"><rect class="b4" x="1874" y="3153" width="262" height="124" rx="5"/><text class="t" x="1881" y="3171.4"><tspan x="1881">4、特别注意学生能力的培养。高考把对能力</tspan><tspan x="1881" dy="16.2">的考核放在首要位置，通过对知识及其运用的</tspan><tspan x="1881" dy="16.2">考核来鉴别学生能力的高低。考试说明中明确</tspan><tspan x="1881" dy="16.2">告诉我们要考查学生四面的能力，即：搜集和</tspan><tspan x="1881" dy="16.2">处理信息的能力、调动和运用知识的能力、组</tspan><tspan x="1881" dy="16.2">织和探讨问题的能力、探讨和处理问题的能力</tspan><tspan x="1881" dy="16.2">。</tspan></text></g>
<g id="b4i5"><rect class="b4" x="1874" y="3305" width="262" height="109" rx="5"/><text class="t" x="1881" y="3323.4"><tspan x="1881">5、注意政治学特殊方法的训练，如：重视理</tspan><tspan x="1881" dy="16.2">论联系实际题目的分析和训练。现在高考越来</tspan><tspan x="1881" dy="16.2">越重视理论联系实际能力的考查。每一章节都</tspan><tspan x="1881" dy="16.2">有这样的题目，本人注意挖掘，特别是经济部</tspan><tspan x="1881" dy="16.2">分，这样的题目较多，高考考查的比率也较高</tspan><tspan x="1881" dy="16.2">。</tspan></text></g>
<g id="b4i5c"><rect class="b4" x="2160" y="3330" width="263" height="60" rx="5"/><text class="t" x="2167" y="3348.4"><tspan x="2167">总之高三政治复习工作任重道远，要切实有效</tspan><tspan x="2167" dy="16.2">地提高高三政治的复习效率，还有很多值得探</tspan><tspan x="2167" dy="16.2">的地方。</tspan></text></g>
<g id="links">
<rect class="pk" x="1657" y="3442" width="197" height="28" rx="5"/><text class="lk" x="1664" y="3460.4">★ 政治教学心得工作总结范文5篇</text>
<rect class="pk" x="1657" y="3497.8" width="197" height="28" rx="5"/><text class="lk" x="1664" y="3516.2">★ 政治教学教师个人工作总结5篇</text>
<rect class="pk" x="1657" y="3553.6" width="197" height="28" rx="5"/><text class="lk" x="1664" y="3572">★ 政治教师教学个人工作总结5篇</text>
<rect class="pk" x="1657" y="3609.4" width="197" height="28" rx="5"/><text class="lk" x="1664" y="3627.8">★ 政治教师教学工作心得总结5篇</text>
<rect class="pk" x="1657" y="3665.2" width="197" height="28" rx="5"/><text class="lk" x="1664" y="3683.6">★ 政治教学工作总结心得范例7篇</text>
<rect class="pk" x="1657" y="3721" width="197" height="28" rx="5"/><text class="lk" x="1664" y="3739.4">★ 政治教学工作总结心得模板5篇</text>
<rect class="pk" x="1657" y="3776.8" width="197" height="28" rx="5"/><text class="lk" x="1664" y="3795.2">★ 政治教师教学反思心得总结5篇</text>
<rect class="pk" x="1657" y="3832.6" width="197" height="28" rx="5"/><text class="lk" x="1664" y="3851">★ 政治教师教学心得总结范文7篇</text>
<rect class="pk" x="1657" y="3888.4" width="197" height="28" rx="5"/><text class="lk" x="1664" y="3906.8">★ 政治任课教师教学心得总结7篇</text>
<rect class="pk" x="1657" y="3944.2" width="197" height="28" rx="5"/><text class="lk" x="1664" y="3962.6">★ 政治教师教学心得总结范例7篇</text>
</g>
</g>
</svg>
